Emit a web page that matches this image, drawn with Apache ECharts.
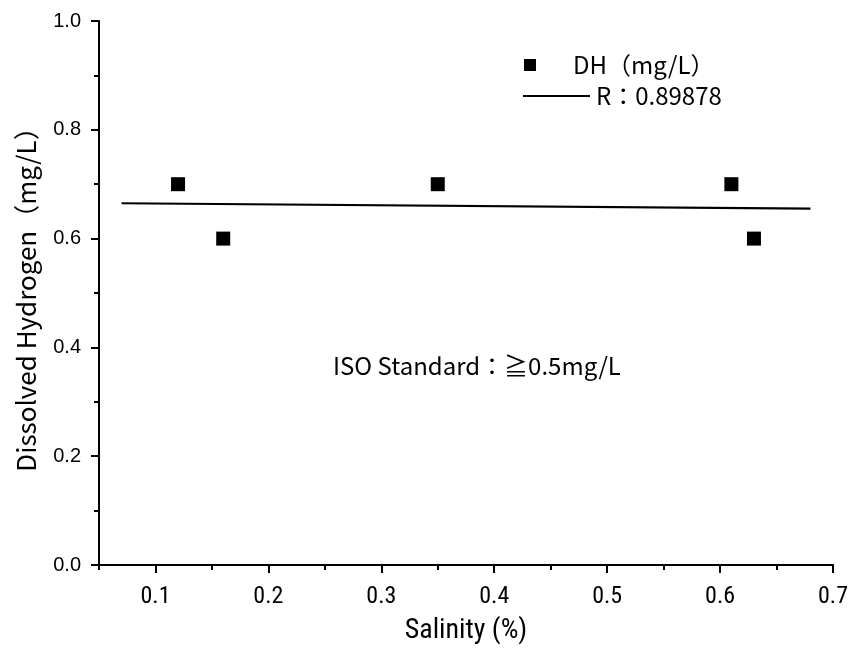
<!DOCTYPE html>
<html>
<head>
<meta charset="utf-8">
<script src="https://cdn.jsdelivr.net/npm/echarts@6/dist/echarts.min.js"></script>
<style>html,body{margin:0;padding:0;background:#fff}#c{width:857px;height:650px}</style>
</head>
<body>
<div id="c"></div>
<script>
const salinity = [0.12, 0.16, 0.35, 0.61, 0.63];
const dissolvedH = [0.7, 0.6, 0.7, 0.7, 0.6];
const fitX = [0.07, 0.68];
const fitY = [0.665, 0.655];
const xMajorTicks = [0.1, 0.2, 0.3, 0.4, 0.5, 0.6, 0.7];
const xMinorTicks = [0.05, 0.15, 0.25, 0.35, 0.45, 0.55, 0.65];
const scatterName = 'DH（mg/L）';
const fitName = 'R：0.89878';
const note = 'ISO Standard：≧0.5mg/L';

const chart = echarts.init(document.getElementById('c'));
const cjk = '"Noto Sans CJK JP", "Liberation Sans", sans-serif';
const narrow = '"Liberation Sans Narrow", "Roboto Condensed", "Liberation Sans", sans-serif';
const ax = {color: '#000', width: 2};
chart.setOption({
  animation: false,
  backgroundColor: '#fff',
  grid: {left: 99, right: 24, top: 21, bottom: 84, containLabel: false},
  legend: [
    {data: [{name: scatterName, icon: 'rect'}], left: 524, top: 53, padding: 0,
     itemWidth: 12, itemHeight: 12, selectedMode: false,
     textStyle: {fontFamily: cjk, fontSize: 24, color: '#000', padding: [0, 0, 0, 32]}},
    {data: [{name: fitName, icon: 'rect'}], left: 523, top: 84, padding: 0,
     itemWidth: 67, itemHeight: 2, selectedMode: false,
     textStyle: {fontFamily: cjk, fontSize: 24, color: '#000', padding: [0, 0, 0, 1]}}
  ],
  xAxis: [
    {type: 'value', min: 0.05, max: 0.7, name: 'Salinity (%)', nameLocation: 'middle', nameGap: 52,
     nameTextStyle: {fontFamily: narrow, fontSize: 28, color: '#000'},
     axisLine: {show: true, lineStyle: ax},
     axisTick: {show: true, customValues: xMajorTicks, length: 8, lineStyle: ax},
     axisLabel: {customValues: xMajorTicks, fontFamily: narrow, fontSize: 24, color: '#000', margin: 20,
       formatter: v => v.toFixed(1)},
     splitLine: {show: false}},
    {type: 'value', min: 0.05, max: 0.7, position: 'bottom',
     axisLine: {show: false},
     axisTick: {show: true, customValues: xMinorTicks, length: 5, lineStyle: ax},
     axisLabel: {show: false}, splitLine: {show: false}}
  ],
  yAxis: {type: 'value', min: 0, max: 1, interval: 0.2,
    name: 'Dissolved Hydrogen（mg/L）', nameLocation: 'middle', nameGap: 60,
    nameTextStyle: {fontFamily: cjk, fontSize: 26, color: '#000'},
    axisLine: {show: true, lineStyle: ax},
    axisTick: {show: true, length: 8, lineStyle: ax},
    minorTick: {show: true, splitNumber: 2, length: 5, lineStyle: ax},
    axisLabel: {fontFamily: '"Liberation Sans", sans-serif', fontSize: 20, color: '#000', margin: 18,
      formatter: v => v.toFixed(1)},
    splitLine: {show: false}, minorSplitLine: {show: false}},
  series: [
    {name: scatterName, type: 'scatter', symbol: 'rect', symbolSize: 14,
     itemStyle: {color: '#000', opacity: 1}, data: salinity.map((x, i) => [x, dissolvedH[i]])},
    {name: fitName, type: 'line', symbol: 'none', showSymbol: false,
     lineStyle: {color: '#000', width: 2.2}, itemStyle: {color: '#000'},
     data: fitX.map((x, i) => [x, fitY[i]])}
  ],
  graphic: [
    {type: 'text', left: 333, top: 354,
     style: {text: note, fontFamily: cjk, fontSize: 24, fill: '#000'}}
  ]
});
</script>
</body>
</html>
